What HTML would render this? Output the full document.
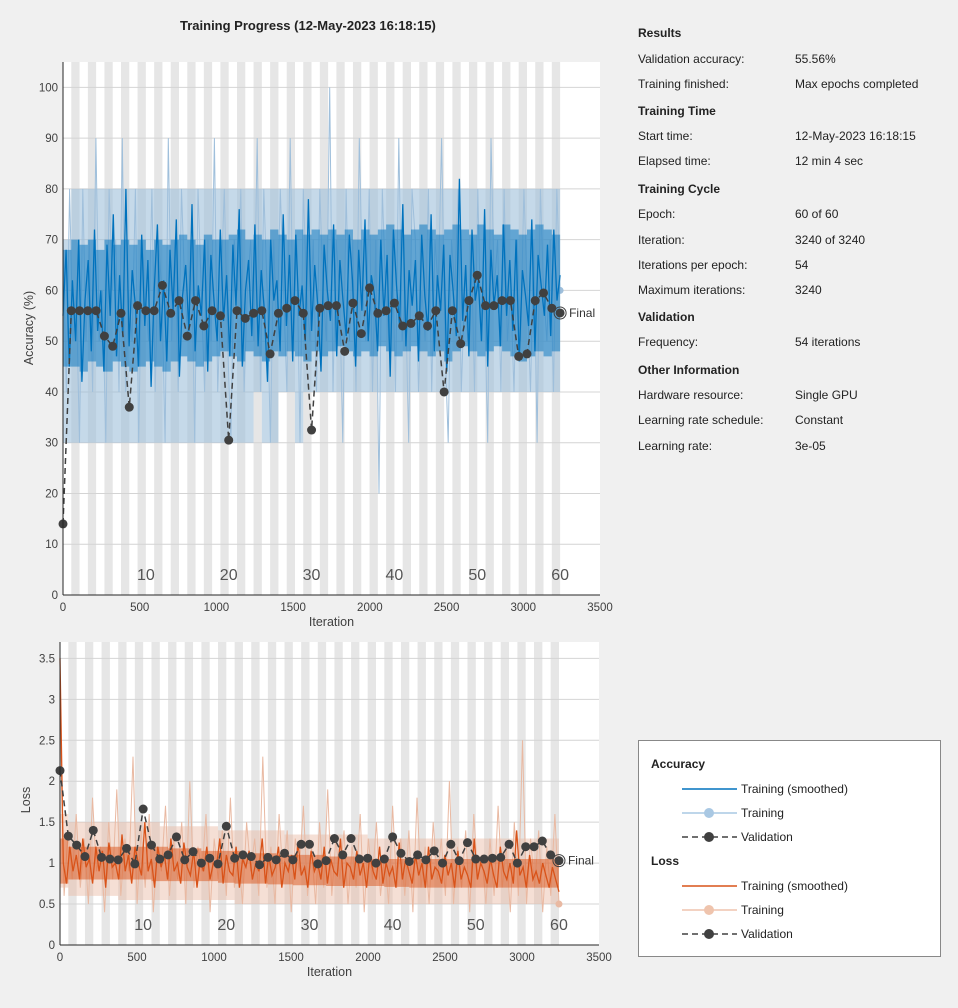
<!DOCTYPE html>
<html><head><meta charset="utf-8"><style>
body{margin:0;width:958px;height:1008px;background:#f0f0f0;font-family:"Liberation Sans",sans-serif;position:relative;overflow:hidden}
.p{position:absolute;font-size:12px;color:#222;white-space:nowrap}
.b{font-weight:bold}
#legend{position:absolute;left:638px;top:740px;width:303px;height:217px;background:#fff;border:1px solid #888;box-sizing:border-box}
</style></head><body>
<svg id="chart" width="958" height="1008" style="position:absolute;left:0;top:0"></svg>
<div class="p b" style="left:180px;top:18px;font-size:13px">Training Progress (12-May-2023 16:18:15)</div>
<div id="info"></div>
<div id="legend">
<svg width="303" height="217">
<text x="12" y="27" font-size="12" font-weight="bold" fill="#222">Accuracy</text>
<line x1="43" y1="48" x2="98" y2="48" stroke="#0072BD" stroke-width="1.5"/><text x="102" y="52" font-size="12" fill="#222">Training (smoothed)</text>
<line x1="43" y1="72" x2="98" y2="72" stroke="#a9c8e3" stroke-width="1.5"/><circle cx="70" cy="72" r="5" fill="#a9c8e3"/><text x="102" y="76" font-size="12" fill="#222">Training</text>
<line x1="43" y1="96" x2="98" y2="96" stroke="#404040" stroke-width="1.5" stroke-dasharray="6,4"/><circle cx="70" cy="96" r="5" fill="#404040"/><text x="102" y="100" font-size="12" fill="#222">Validation</text>
<text x="12" y="124" font-size="12" font-weight="bold" fill="#222">Loss</text>
<line x1="43" y1="145" x2="98" y2="145" stroke="#D95319" stroke-width="1.5"/><text x="102" y="149" font-size="12" fill="#222">Training (smoothed)</text>
<line x1="43" y1="169" x2="98" y2="169" stroke="#efc4ad" stroke-width="1.5"/><circle cx="70" cy="169" r="5" fill="#efc4ad"/><text x="102" y="173" font-size="12" fill="#222">Training</text>
<line x1="43" y1="193" x2="98" y2="193" stroke="#404040" stroke-width="1.5" stroke-dasharray="6,4"/><circle cx="70" cy="193" r="5" fill="#404040"/><text x="102" y="197" font-size="12" fill="#222">Validation</text>
</svg></div>
<script>
const accS=[55,68,45,62,50,70,42,58,66,48,72,52,60,44,69,55,75,47,63,51,80,49,64,57,45,71,53,66,41,60,73,50,62,46,68,56,74,43,59,65,52,77,48,61,55,70,44,67,58,50,72,54,63,47,69,57,76,45,60,66,51,73,49,64,56,42,70,58,62,48,75,53,67,46,71,55,61,50,78,52,65,57,44,69,60,54,73,47,66,58,51,71,62,45,68,56,74,50,63,59,48,70,55,67,43,72,61,53,77,49,64,57,66,46,71,59,52,75,48,63,56,69,44,67,60,51,82,54,65,47,72,58,62,50,76,45,68,57,63,49,73,55,66,52,70,46,64,59,53,74,48,67,61,55,69,51,72,58,63];
const accR=[70,40,80,50,60,30,80,50,70,40,90,50,60,30,80,60,70,40,90,40,60,50,80,30,70,60,50,80,40,70,60,30,90,50,70,40,80,60,50,70,30,80,60,40,70,50,90,40,60,80,50,30,70,60,80,40,60,70,50,90,40,80,60,30,70,50,80,60,40,90,50,70,30,80,60,50,70,40,80,60,50,100,40,70,60,30,80,50,70,40,90,60,50,80,40,70,20,80,60,50,70,40,90,50,60,30,80,70,40,60,50,80,40,70,60,90,50,30,70,60,80,40,60,50,70,40,80,50,60,30,90,60,70,40,80,50,60,40,70,50,80,60,40,70,30,80,60,50,70,40,80,60];
// per-epoch ranges of the dense traces (60 epochs)
const accRawLo=[30,30,30,30,30,30,30,30,30,30,30,30,30,30,30,30,30,30,30,30,30,30,30,40,30,30,40,40,30,40,40,40,40,40,40,40,40,40,40,40,40,40,40,40,40,40,40,40,40,40,40,40,40,40,40,40,40,40,40,40];
const accRawHi=[70,80,80,80,80,80,80,80,80,80,80,80,80,80,80,80,80,80,80,80,80,80,80,80,80,80,80,80,80,80,80,80,80,80,80,80,80,80,80,80,80,80,80,80,80,80,80,80,80,80,80,80,80,80,80,80,80,80,80,80];
const accSmLo=[45,45,44,46,45,44,46,45,44,45,46,45,44,46,47,46,45,46,47,48,47,46,48,47,46,48,47,48,47,46,48,47,48,49,48,47,48,47,49,48,47,48,49,48,47,48,46,48,49,48,47,48,49,48,47,46,47,48,47,48];
const accSmHi=[68,70,69,70,68,70,69,70,69,70,68,70,69,70,71,70,69,71,70,70,71,72,70,71,70,72,71,70,72,71,72,71,72,71,72,70,72,71,72,73,72,71,72,73,72,71,72,73,72,71,73,72,71,73,72,71,72,73,72,71];
const accV=[14,56,56,56,56,51,49,55.5,37,57,56,56,61,55.5,58,51,58,53,56,55,30.5,56,54.5,55.5,56,47.5,55.5,56.5,58,55.5,32.5,56.5,57,57,48,57.5,51.5,60.5,55.5,56,57.5,53,53.5,55,53,56,40,56,49.5,58,63,57,57,58,58,47,47.5,58,59.5,56.5,55.56];
const lossS=[3.5,1.0,0.75,1.2,0.9,1.1,0.8,1.3,0.95,1.05,0.75,1.2,0.9,1.15,0.7,1.25,0.95,1.0,0.8,1.35,0.9,1.1,0.75,1.2,1.0,0.85,1.5,0.9,1.05,0.7,1.2,0.95,1.1,0.8,1.3,0.9,1.0,0.75,1.25,0.95,0.85,1.15,0.7,1.05,0.9,1.2,0.8,1.0,0.95,1.3,0.75,1.1,0.9,0.85,1.2,0.7,1.05,0.95,1.15,0.8,1.0,0.9,1.3,0.75,1.1,0.85,0.95,1.2,0.7,1.0,0.9,1.1,0.8,1.25,0.85,0.95,0.7,1.15,0.9,1.0,0.8,1.2,0.75,1.05,0.9,0.85,1.3,0.7,1.0,0.95,0.8,1.15,0.85,1.0,0.7,1.1,0.9,0.8,1.2,0.75,1.0,0.85,0.95,0.7,1.25,0.8,1.05,0.9,0.75,1.1,0.85,1.0,0.7,1.2,0.8,0.95,0.9,0.75,1.1,0.85,1.0,0.7,1.15,0.8,0.95,0.85,0.7,1.3,0.8,1.0,0.9,0.75,1.05,0.85,0.7,1.2,0.9,0.8,1.0,0.75,1.4,0.85,0.95,0.7,1.1,0.8,0.9,0.75,1.0,0.85,0.7,0.95,0.8,0.65];
const lossR=[2.8,0.6,1.4,0.8,1.6,0.7,1.3,0.5,1.8,0.9,1.2,0.4,1.5,0.8,1.9,0.6,1.3,0.9,2.3,0.5,1.4,0.7,1.6,0.4,1.2,0.9,1.7,0.6,1.3,0.8,1.5,0.5,2.0,0.7,1.2,0.9,1.6,0.4,1.3,0.8,1.4,0.6,1.8,0.7,1.1,0.5,1.5,0.9,1.3,0.6,2.3,0.7,1.2,0.5,1.6,0.8,1.4,0.4,1.3,0.9,1.7,0.6,1.2,0.5,1.5,0.7,1.9,0.6,1.3,0.8,1.4,0.5,1.2,0.7,1.6,0.4,1.3,0.8,1.5,0.6,1.1,0.5,1.7,0.7,1.3,0.6,1.4,0.4,1.8,0.7,1.2,0.5,1.5,0.8,1.3,0.6,2.0,0.5,1.2,0.7,1.4,0.4,1.6,0.8,1.1,0.5,1.3,0.6,1.7,0.7,1.2,0.4,1.5,0.6,2.5,0.5,1.3,0.7,1.4,0.4,1.2,0.6,1.6,0.5];
const lossRawLo=[0.7,0.6,0.6,0.6,0.6,0.6,0.6,0.55,0.55,0.55,0.55,0.55,0.55,0.55,0.55,0.55,0.55,0.55,0.55,0.55,0.55,0.5,0.5,0.5,0.5,0.5,0.5,0.5,0.5,0.5,0.5,0.5,0.5,0.5,0.5,0.5,0.5,0.5,0.5,0.5,0.5,0.5,0.5,0.5,0.5,0.5,0.5,0.5,0.5,0.5,0.5,0.5,0.5,0.5,0.5,0.5,0.5,0.5,0.5,0.5];
const lossRawHi=[1.6,1.5,1.5,1.5,1.5,1.5,1.5,1.5,1.5,1.5,1.5,1.5,1.45,1.45,1.45,1.45,1.45,1.45,1.45,1.4,1.4,1.4,1.4,1.4,1.4,1.4,1.4,1.35,1.35,1.35,1.35,1.35,1.35,1.35,1.35,1.35,1.35,1.3,1.3,1.3,1.3,1.3,1.3,1.3,1.3,1.3,1.3,1.3,1.3,1.3,1.3,1.3,1.3,1.3,1.3,1.3,1.3,1.3,1.3,1.3];
const lossSmLo=[0.75,0.8,0.8,0.8,0.8,0.8,0.8,0.8,0.8,0.8,0.8,0.78,0.78,0.78,0.78,0.78,0.78,0.78,0.78,0.76,0.76,0.75,0.75,0.75,0.75,0.74,0.74,0.74,0.73,0.73,0.73,0.73,0.72,0.72,0.72,0.72,0.72,0.72,0.72,0.71,0.71,0.71,0.7,0.7,0.7,0.7,0.7,0.7,0.7,0.7,0.7,0.7,0.7,0.7,0.7,0.7,0.7,0.7,0.7,0.7];
const lossSmHi=[1.3,1.2,1.2,1.2,1.2,1.2,1.2,1.2,1.2,1.2,1.2,1.2,1.2,1.18,1.18,1.18,1.18,1.15,1.15,1.15,1.15,1.15,1.12,1.12,1.12,1.12,1.1,1.1,1.1,1.1,1.1,1.1,1.08,1.08,1.08,1.08,1.08,1.05,1.05,1.05,1.05,1.05,1.05,1.05,1.05,1.05,1.05,1.05,1.05,1.05,1.05,1.05,1.05,1.05,1.05,1.05,1.05,1.05,1.05,1.05];
const lossV=[2.13,1.33,1.22,1.08,1.4,1.07,1.05,1.04,1.18,0.99,1.66,1.22,1.05,1.1,1.32,1.04,1.14,1.0,1.06,0.99,1.45,1.06,1.1,1.08,0.98,1.07,1.04,1.12,1.04,1.23,1.23,0.99,1.03,1.3,1.1,1.3,1.05,1.06,1.0,1.05,1.32,1.12,1.02,1.1,1.04,1.15,1.0,1.23,1.03,1.25,1.05,1.05,1.06,1.07,1.23,1.0,1.2,1.2,1.27,1.1,1.03];
const xTicks=[0,500,1000,1500,2000,2500,3000,3500];
const accTicks=[0,10,20,30,40,50,60,70,80,90,100];
const lossTicks=[0,0.5,1,1.5,2,2.5,3,3.5];
const epochLabels=[10,20,30,40,50,60];
const ITER=3240, EPI=54;

const NS="http://www.w3.org/2000/svg", svg=document.getElementById('chart');
function el(t,a,p){const e=document.createElementNS(NS,t);for(const k in a)e.setAttribute(k,a[k]);(p||svg).appendChild(e);return e;}
function txt(x,y,s,a){const e=el('text',Object.assign({x:x,y:y,'font-size':12,fill:'#404040','font-family':'Liberation Sans, sans-serif'},a||{}));e.textContent=s;return e;}

function plot(o){
  const X=v=>o.l+(v/3500)*(o.r-o.l), Y=v=>o.b-(v/o.ymax)*(o.b-o.t);
  const g=el('g',{});
  
  
  el('rect',{x:o.l,y:o.t,width:o.r-o.l,height:o.b-o.t,fill:'#fff'},g);
  for(let e=2;e<=60;e+=2){const r=el('rect',{x:X((e-1)*EPI),y:o.t,width:X(e*EPI)-X((e-1)*EPI),height:o.b-o.t,fill:'#e6e6e6'},g);
    
    }
  o.ticks.forEach(v=>{el('line',{x1:o.l,x2:o.r,y1:Y(v),y2:Y(v),stroke:'#d4d4d4','stroke-width':1},g);
    const t=txt(o.l-5,Y(v)+4,String(v),{'text-anchor':'end','font-size':11.5});
    
    });
  xTicks.forEach(v=>{
    const t=txt(X(v),o.b+16,String(v),{'text-anchor':'middle','font-size':11.5});
    
    });
  const band=(lo,hi,col,op)=>{let pts=[];
    lo.forEach((v,i)=>{pts.push(X(i*EPI)+','+Y(v));pts.push(X((i+1)*EPI)+','+Y(v));});
    for(let i=hi.length-1;i>=0;i--){pts.push(X((i+1)*EPI)+','+Y(hi[i]));pts.push(X(i*EPI)+','+Y(hi[i]));}
    return el('polygon',{points:pts.join(' '),fill:col,'fill-opacity':op},g);};
  const line=(arr,col,w)=>{const pts=arr.map((v,i)=>X(i*ITER/(arr.length-1)).toFixed(1)+','+Y(v).toFixed(1)).join(' ');
    return el('polyline',{points:pts,fill:'none',stroke:col,'stroke-width':w},g);};
  const rb=band(o.rawLo,o.rawHi,o.rawCol,o.rawOp);
  
  
  const raw=line(o.raw,o.rawCol,1);
  
  
  el('circle',{cx:X(ITER),cy:Y(o.raw[o.raw.length-1]),r:3.5,fill:o.rawCol},g);
  const sb=band(o.smLo,o.smHi,o.smCol,o.smOp);
  
  
  const sm=line(o.sm,o.smCol,1.3);
  
  
  const vp=o.val.map((v,i)=>X(i*EPI)+','+Y(v)).join(' ');
  const vl=el('polyline',{points:vp,fill:'none',stroke:'#404040','stroke-width':1.5,'stroke-dasharray':'6,4'},g);
  
  
  o.val.forEach((v,i)=>{const c=el('circle',{cx:X(i*EPI),cy:Y(v),r:4.5,fill:'#404040'},g);
    
    });
  const lv=o.val[o.val.length-1];
  el('circle',{cx:X(ITER),cy:Y(lv),r:6,fill:'none',stroke:'#404040','stroke-width':1},g);
  const f=txt(X(ITER)+9,Y(lv)+4,'Final',{'font-size':12,fill:'#333'});
  
  
  epochLabels.forEach(e=>{const t=txt(X(e*EPI),o.b-15,String(e),{'font-size':16,fill:'#555','text-anchor':'middle'});
    
    });
  el('line',{x1:o.l,x2:o.l,y1:o.t,y2:o.b,stroke:'#262626','stroke-width':1},g);
  el('line',{x1:o.l,x2:o.r,y1:o.b,y2:o.b,stroke:'#262626','stroke-width':1},g);
  const xl=txt((o.l+o.r)/2,o.b+31,'Iteration',{'text-anchor':'middle','font-size':12.5});
  
  
  const yl=txt(0,0,o.ylab,{'text-anchor':'middle','font-size':12.5,transform:'translate('+(o.l-30)+','+o.ymid+') rotate(-90)'});
  
  
}
plot({name:'accuracy',l:63,r:600,t:62,b:595,ymax:105,ticks:accTicks,raw:accR,rawLo:accRawLo,rawHi:accRawHi,rawCol:'#9fbfdb',rawOp:0.6,sm:accS,smLo:accSmLo,smHi:accSmHi,smCol:'#0072BD',smOp:0.5,val:accV,ylab:'Accuracy (%)',ymid:328});
plot({name:'loss',l:60,r:599,t:642,b:945,ymax:3.7,ticks:lossTicks,raw:lossR,rawLo:lossRawLo,rawHi:lossRawHi,rawCol:'#e9b9a2',rawOp:0.45,sm:lossS,smLo:lossSmLo,smHi:lossSmHi,smCol:'#D95319',smOp:0.5,val:lossV,ylab:'Loss',ymid:800});

const rows=[[33,'Results',null],[59,'Validation accuracy:','55.56%'],[84,'Training finished:','Max epochs completed'],
[111,'Training Time',null],[136,'Start time:','12-May-2023 16:18:15'],[161,'Elapsed time:','12 min 4 sec'],
[189,'Training Cycle',null],[214,'Epoch:','60 of 60'],[240,'Iteration:','3240 of 3240'],[265,'Iterations per epoch:','54'],[290,'Maximum iterations:','3240'],
[317,'Validation',null],[342,'Frequency:','54 iterations'],
[370,'Other Information',null],[395,'Hardware resource:','Single GPU'],[420,'Learning rate schedule:','Constant'],[446,'Learning rate:','3e-05']];
const info=document.getElementById('info');
rows.forEach(r=>{const d=document.createElement('div');d.className='p'+(r[2]===null?' b':'');d.style.left='638px';d.style.top=(r[0]-7)+'px';d.textContent=r[1];
  
  
  info.appendChild(d);
  if(r[2]!==null){const v=document.createElement('div');v.className='p';v.style.left='795px';v.style.top=(r[0]-7)+'px';v.textContent=r[2];
    
    
    info.appendChild(v);}});
</script>
</body></html>
